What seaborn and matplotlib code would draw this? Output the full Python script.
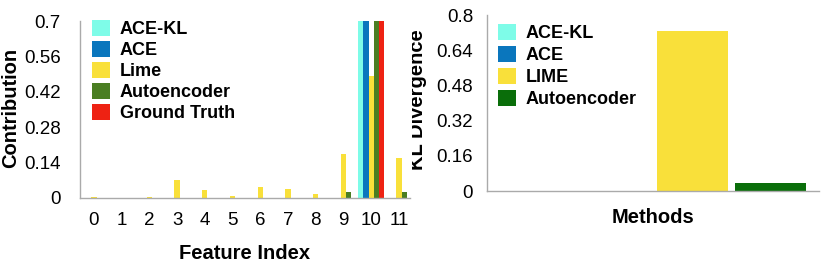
import numpy as np
import pandas as pd
import seaborn as sns
import matplotlib.pyplot as plt
from matplotlib.transforms import Bbox, TransformedBbox

# Left panel data: contribution of each feature per method
features = [str(i) for i in range(12)]
ace_kl = [0, 0, 0, 0, 0, 0, 0, 0, 0, 0, 1.0, 0]
ace = [0, 0, 0, 0, 0, 0, 0, 0, 0, 0, 1.0, 0]
lime = [0.003, 0, 0.003, 0.071, 0.033, 0.008, 0.043, 0.036, 0.017, 0.174, 0.484, 0.158]
autoencoder = [0, 0, 0, 0, 0, 0, 0, 0, 0, 0.024, 1.0, 0.022]
ground_truth = [0, 0, 0, 0, 0, 0, 0, 0, 0, 0, 1.0, 0]
left_methods = ["ACE-KL", "ACE", "Lime", "Autoencoder", "Ground Truth"]
left_colors = ["#7EFCE8", "#0A76BD", "#F9E03A", "#4A7E22", "#EE2213"]
left_ticks = [0, 0.14, 0.28, 0.42, 0.56, 0.7]
left_ticklabels = ["0", "0.14", "0.28", "0.42", "0.56", "0.7"]

# Right panel data: KL divergence per method
right_methods = ["ACE-KL", "ACE", "LIME", "Autoencoder"]
kl_values = [0.0, 0.0, 0.727, 0.036]
right_colors = ["#7EFCE8", "#0A76BD", "#F9E03A", "#0A6E0A"]
right_ticks = [0, 0.16, 0.32, 0.48, 0.64, 0.8]
right_ticklabels = ["0", "0.16", "0.32", "0.48", "0.64", "0.8"]

sns.set_style("white")
plt.rcParams["font.family"] = ["Liberation Sans", "DejaVu Sans"]
plt.rcParams["text.color"] = "black"
plt.rcParams["axes.labelcolor"] = "black"
plt.rcParams["xtick.color"] = "black"
plt.rcParams["ytick.color"] = "black"

df_left = pd.DataFrame({
    "feature": features * 5,
    "method": np.repeat(left_methods, len(features)),
    "value": ace_kl + ace + lime + autoencoder + ground_truth,
})
df_right = pd.DataFrame({
    "group": ["Methods"] * len(right_methods),
    "method": right_methods,
    "kl": kl_values,
})

fig = plt.figure(figsize=(8.3, 2.69), dpi=100)
W, H = 830, 269
ax1 = fig.add_axes([80 / W, 1 - 198 / H, 330 / W, 177 / H])
ax2 = fig.add_axes([487 / W, 1 - 191 / H, 332 / W, 176 / H])

sns.barplot(data=df_left, x="feature", y="value", hue="method", order=features,
            hue_order=left_methods, palette=left_colors, width=0.95,
            saturation=1, linewidth=0, ax=ax1)
ax1.set_ylim(0, 0.7)
ax1.set_xlim(-0.5, 11.4)
ax1.set_yticks(left_ticks)
ax1.set_yticklabels(left_ticklabels)
ax1.set_xlabel("Feature Index", fontsize=14.5, fontweight="bold", labelpad=11)
ax1.set_ylabel("Contribution", fontsize=14.5, fontweight="bold")
ax1.yaxis.set_label_coords(-0.182, 0.508)
ax1.tick_params(axis="y", length=0, pad=14, labelsize=13.5)
ax1.tick_params(axis="x", length=0, pad=10, labelsize=13.5)

sns.barplot(data=df_right, x="group", y="kl", hue="method",
            hue_order=right_methods, palette=right_colors, width=0.94, gap=0.09,
            saturation=1, linewidth=0, ax=ax2)
ax2.set_ylim(0, 0.8)
ax2.set_xlim(-0.5, 0.5)
ax2.set_yticks(right_ticks)
ax2.set_yticklabels(right_ticklabels)
ax2.set_xticks([])
ax2.set_xlabel("Methods", fontsize=14.5, fontweight="bold", labelpad=12)
ax2.set_ylabel("")
ax2.tick_params(axis="y", length=0, pad=10, labelsize=13.5)

for ax in (ax1, ax2):
    sns.despine(ax=ax)
    for s in ("left", "bottom"):
        ax.spines[s].set_color("#AAAAAA")
        ax.spines[s].set_linewidth(1.0)

h, l = ax1.get_legend_handles_labels()
ax1.legend(h, l, loc="upper left", bbox_to_anchor=(92 / W, 1 - 20 / H),
           bbox_transform=fig.transFigure, frameon=False, borderpad=0,
           borderaxespad=0, handlelength=1.0, handleheight=1.0,
           handletextpad=0.55, labelspacing=0.15,
           prop={"size": 13, "weight": "bold"})
h, l = ax2.get_legend_handles_labels()
ax2.legend(h, l, loc="upper left", bbox_to_anchor=(498 / W, 1 - 24 / H),
           bbox_transform=fig.transFigure, frameon=False, borderpad=0,
           borderaxespad=0, handlelength=1.0, handleheight=1.0,
           handletextpad=0.55, labelspacing=0.2,
           prop={"size": 13, "weight": "bold"})

# KL Divergence label, partly cut off on its left side like the reference
kl_label = fig.text(408 / W, 1 - 100 / H, "KL Divergence", rotation=90,
                    ha="left", va="center", fontsize=14.5, fontweight="bold")
kl_label.set_clip_box(TransformedBbox(Bbox([[412 / W, 0], [1, 1]]), fig.transFigure))
kl_label.set_clip_on(True)

fig.savefig("out.png", dpi=100)
